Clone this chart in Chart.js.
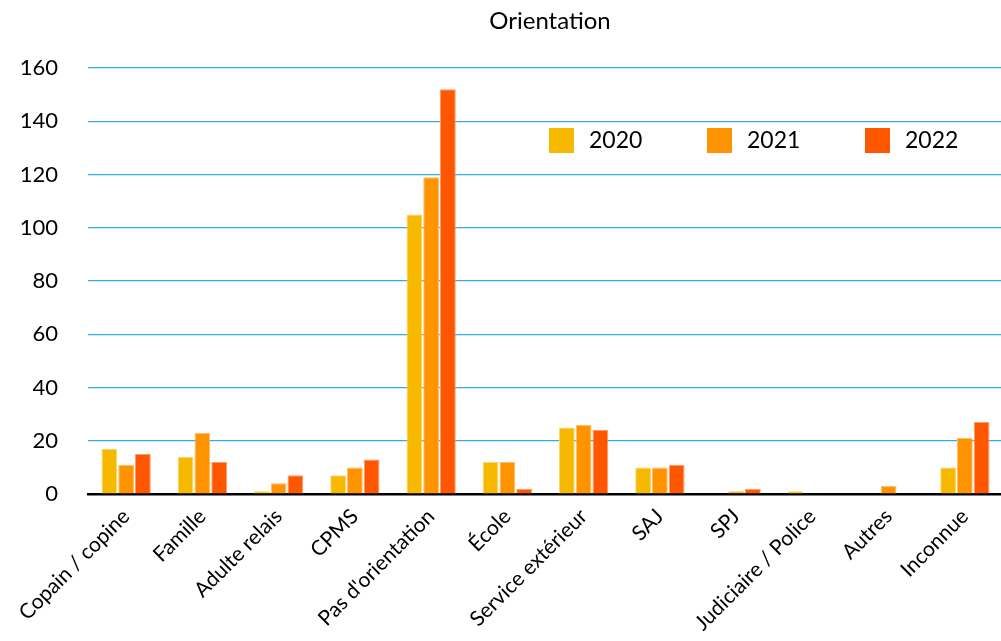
<!DOCTYPE html>
<html>
<head>
<meta charset="utf-8">
<script src="https://cdn.jsdelivr.net/npm/chart.js@4"></script>
<style>
  html, body { margin: 0; padding: 0; background: #fff; overflow: hidden; }
  #wrap { width: 1004px; height: 641px; }
</style>
</head>
<body>
<div id="wrap"><canvas id="orientationChart"></canvas></div>
<script>
const categories = ["Copain / copine", "Famille", "Adulte relais", "CPMS", "Pas d'orientation",
  "École", "Service extérieur", "SAJ", "SPJ", "Judiciaire / Police", "Autres", "Inconnue"];
const years = ["2020", "2021", "2022"];
const values2020 = [17, 14, 1, 7, 105, 12, 25, 10, 0, 1, 0, 10];
const values2021 = [11, 23, 4, 10, 119, 12, 26, 10, 1, 0, 3, 21];
const values2022 = [15, 12, 7, 13, 152, 2, 24, 11, 2, 0, 0, 27];
const yearColors = ["#f7b800", "#ff9300", "#ff5700"];
const borderColors = ["#fbd66a", "#ffbf6a", "#ff9a66"];
const chartTitle = "Orientation";

const fontFamily = "Lato, 'Open Sans', sans-serif";

// title centred over the plot, legend inside the plot top right
const decorations = {
  id: "decorations",
  afterDraw(chart) {
    const ctx = chart.ctx;
    const area = chart.chartArea;
    ctx.save();
    ctx.fillStyle = "#000";
    ctx.font = "24px " + fontFamily;
    ctx.textAlign = "center";
    ctx.textBaseline = "middle";
    ctx.fillText(chartTitle, 550, 21);

    ctx.font = "23px " + fontFamily;
    ctx.textAlign = "left";
    chart.data.datasets.forEach((ds, i) => {
      const x = 549 + i * 158;
      const y = 128;
      ctx.fillStyle = ds.backgroundColor;
      ctx.fillRect(x, y, 25, 25);
      ctx.fillStyle = "#000";
      ctx.fillText(ds.label, x + 40, y + 13);
    });
    ctx.restore();
  }
};

new Chart(document.getElementById("orientationChart"), {
  type: "bar",
  data: {
    labels: categories,
    datasets: [
      { label: years[0], data: values2020, backgroundColor: yearColors[0], borderColor: borderColors[0], borderWidth: 1 },
      { label: years[1], data: values2021, backgroundColor: yearColors[1], borderColor: borderColors[1], borderWidth: 1 },
      { label: years[2], data: values2022, backgroundColor: yearColors[2], borderColor: borderColors[2], borderWidth: 1 }
    ]
  },
  options: {
    responsive: true,
    maintainAspectRatio: false,
    animation: false,
    datasets: { bar: { categoryPercentage: 0.66, barPercentage: 0.94 } },
    layout: { autoPadding: false, padding: { left: 0, right: 1, top: 68, bottom: 0 } },
    plugins: {
      legend: { display: false },
      tooltip: { enabled: false },
      title: { display: false }
    },
    scales: {
      x: {
        grid: { display: false, drawTicks: false },
        border: { color: "#000", width: 2.5 },
        ticks: {
          color: "#000",
          font: { family: fontFamily, size: 21 },
          maxRotation: 45,
          minRotation: 45,
          padding: 10,
          autoSkip: false
        },
        afterFit: (scale) => { scale.height = 147; }
      },
      y: {
        min: 0,
        max: 160,
        grid: { color: "#36a9ec", lineWidth: 1.2, drawTicks: false },
        border: { display: false },
        ticks: {
          stepSize: 10,
          color: "#000",
          padding: 30,
          font: { family: fontFamily, size: 22 },
          callback: (v) => (v % 20 === 0 ? v : "")
        },
        afterFit: (scale) => { scale.width = 88; }
      }
    }
  },
  plugins: [decorations]
});
</script>
</body>
</html>
